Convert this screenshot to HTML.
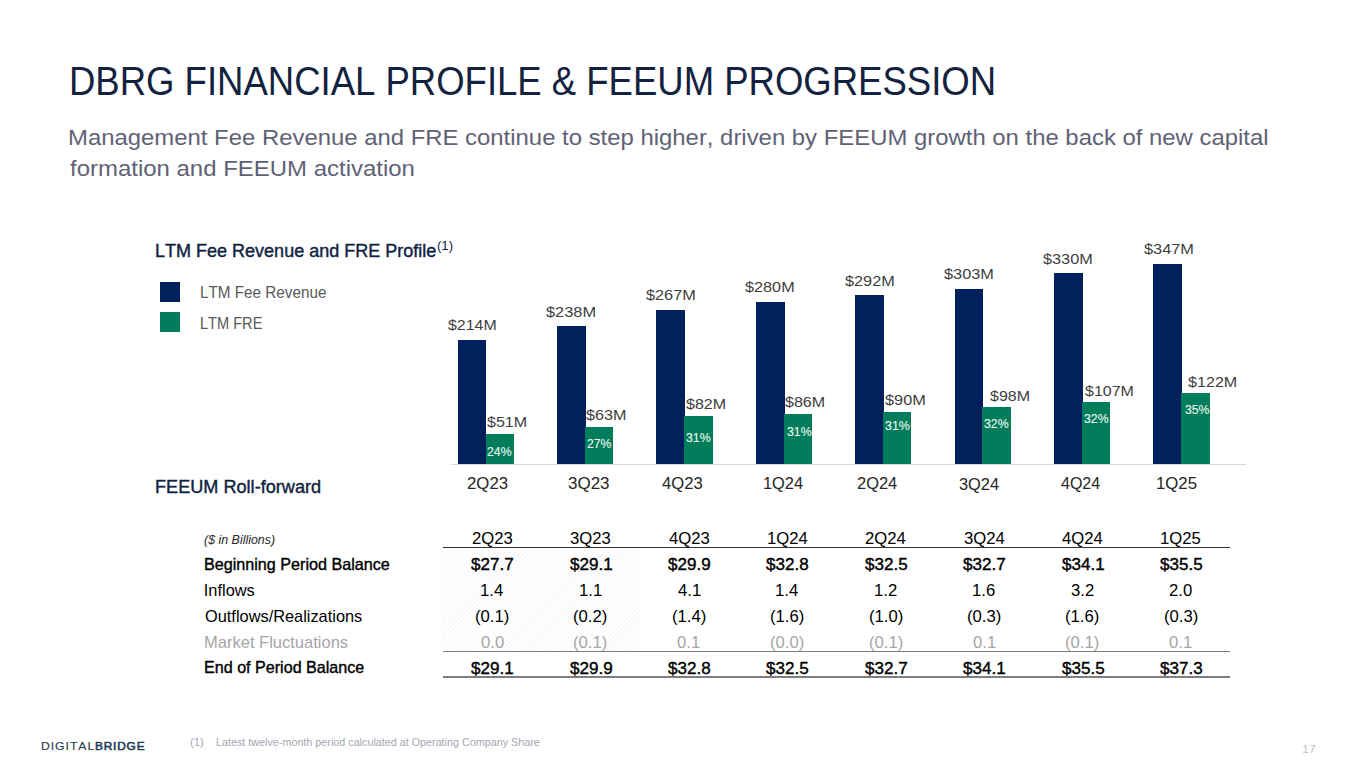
<!DOCTYPE html>
<html><head><meta charset="utf-8"><style>
html,body{margin:0;padding:0;background:#ffffff;}
body{width:1365px;height:768px;position:relative;overflow:hidden;font-family:"Liberation Sans", sans-serif;}
.t{position:absolute;white-space:nowrap;transform-origin:0 0;font-kerning:none;}
.r{position:absolute;}
</style></head><body>
<div class="t" style="left:68.70px;top:60.69px;font-size:40.40px;line-height:40.40px;color:#13233f;transform:scaleX(0.9039);">DBRG FINANCIAL PROFILE &amp; FEEUM PROGRESSION</div>
<div class="t" style="left:68.04px;top:126.97px;font-size:22.00px;line-height:22.00px;color:#5f6276;transform:scaleX(1.0860);">Management Fee Revenue and FRE continue to step higher, driven by FEEUM growth on the back of new capital</div>
<div class="t" style="left:69.66px;top:157.77px;font-size:22.00px;line-height:22.00px;color:#5f6276;transform:scaleX(1.0891);">formation and FEEUM activation</div>
<div class="t" style="left:155.32px;top:241.99px;font-size:18.20px;line-height:18.20px;color:#0f2340;transform:scaleX(0.9903);-webkit-text-stroke:0.40px #0f2340;">LTM Fee Revenue and FRE Profile</div>
<div class="t" style="left:437.09px;top:240.38px;font-size:12.90px;line-height:12.90px;color:#0f2340;transform:scaleX(1.0165);">(1)</div>
<div class="r" style="left:160.00px;top:282.00px;width:20.00px;height:20.00px;background:#02205c;"></div>
<div class="r" style="left:160.00px;top:312.30px;width:20.00px;height:20.00px;background:#027d5b;"></div>
<div class="t" style="left:199.65px;top:283.80px;font-size:16.30px;line-height:16.30px;color:#595959;transform:scaleX(0.9373);">LTM Fee Revenue</div>
<div class="t" style="left:199.70px;top:315.00px;font-size:16.30px;line-height:16.30px;color:#595959;transform:scaleX(0.8952);">LTM FRE</div>
<div class="r" style="left:457.60px;top:340.14px;width:28.90px;height:123.66px;background:#02205c;"></div>
<div class="r" style="left:485.50px;top:433.95px;width:28.40px;height:29.85px;background:#027d5b;"></div>
<div class="r" style="left:556.98px;top:326.33px;width:28.88px;height:137.47px;background:#02205c;"></div>
<div class="r" style="left:584.86px;top:427.04px;width:28.44px;height:36.76px;background:#027d5b;"></div>
<div class="r" style="left:656.36px;top:309.64px;width:28.86px;height:154.16px;background:#02205c;"></div>
<div class="r" style="left:684.22px;top:416.11px;width:28.48px;height:47.69px;background:#027d5b;"></div>
<div class="r" style="left:755.74px;top:302.16px;width:28.84px;height:161.64px;background:#02205c;"></div>
<div class="r" style="left:783.58px;top:413.81px;width:28.52px;height:49.99px;background:#027d5b;"></div>
<div class="r" style="left:855.12px;top:295.25px;width:28.82px;height:168.55px;background:#02205c;"></div>
<div class="r" style="left:882.94px;top:411.50px;width:28.56px;height:52.30px;background:#027d5b;"></div>
<div class="r" style="left:954.50px;top:288.92px;width:28.80px;height:174.88px;background:#02205c;"></div>
<div class="r" style="left:982.30px;top:406.90px;width:28.60px;height:56.90px;background:#027d5b;"></div>
<div class="r" style="left:1053.88px;top:273.38px;width:28.78px;height:190.41px;background:#02205c;"></div>
<div class="r" style="left:1081.66px;top:401.72px;width:28.64px;height:62.08px;background:#027d5b;"></div>
<div class="r" style="left:1153.26px;top:263.60px;width:28.76px;height:200.20px;background:#02205c;"></div>
<div class="r" style="left:1181.02px;top:393.09px;width:28.68px;height:70.71px;background:#027d5b;"></div>
<div class="r" style="left:450.50px;top:463.50px;width:795.00px;height:1.00px;background:#d9d9d9;"></div>
<div class="t" style="left:447.53px;top:318.44px;font-size:14.60px;line-height:14.60px;color:#404040;transform:scaleX(1.0904);">$214M</div>
<div class="t" style="left:546.22px;top:304.64px;font-size:14.60px;line-height:14.60px;color:#404040;transform:scaleX(1.1227);">$238M</div>
<div class="t" style="left:645.83px;top:287.74px;font-size:14.60px;line-height:14.60px;color:#404040;transform:scaleX(1.1158);">$267M</div>
<div class="t" style="left:745.33px;top:280.04px;font-size:14.60px;line-height:14.60px;color:#404040;transform:scaleX(1.1135);">$280M</div>
<div class="t" style="left:844.73px;top:273.54px;font-size:14.60px;line-height:14.60px;color:#404040;transform:scaleX(1.1158);">$292M</div>
<div class="t" style="left:944.02px;top:267.14px;font-size:14.60px;line-height:14.60px;color:#404040;transform:scaleX(1.1181);">$303M</div>
<div class="t" style="left:1043.23px;top:251.54px;font-size:14.60px;line-height:14.60px;color:#404040;transform:scaleX(1.1158);">$330M</div>
<div class="t" style="left:1143.82px;top:242.04px;font-size:14.60px;line-height:14.60px;color:#404040;transform:scaleX(1.1204);">$347M</div>
<div class="t" style="left:486.53px;top:414.64px;font-size:14.60px;line-height:14.60px;color:#404040;transform:scaleX(1.1005);">$51M</div>
<div class="t" style="left:585.83px;top:407.54px;font-size:14.60px;line-height:14.60px;color:#404040;transform:scaleX(1.1062);">$63M</div>
<div class="t" style="left:685.73px;top:396.64px;font-size:14.60px;line-height:14.60px;color:#404040;transform:scaleX(1.0976);">$82M</div>
<div class="t" style="left:784.73px;top:394.74px;font-size:14.60px;line-height:14.60px;color:#404040;transform:scaleX(1.1005);">$86M</div>
<div class="t" style="left:885.42px;top:392.54px;font-size:14.60px;line-height:14.60px;color:#404040;transform:scaleX(1.1175);">$90M</div>
<div class="t" style="left:990.23px;top:389.04px;font-size:14.60px;line-height:14.60px;color:#404040;transform:scaleX(1.0976);">$98M</div>
<div class="t" style="left:1085.03px;top:383.94px;font-size:14.60px;line-height:14.60px;color:#404040;transform:scaleX(1.0973);">$107M</div>
<div class="t" style="left:1187.53px;top:375.24px;font-size:14.60px;line-height:14.60px;color:#404040;transform:scaleX(1.1043);">$122M</div>
<div class="t" style="left:486.88px;top:444.92px;font-size:13.20px;line-height:13.20px;color:#eef8f3;transform:scaleX(0.9294);-webkit-text-stroke:0.10px #eef8f3;">24%</div>
<div class="t" style="left:586.79px;top:436.82px;font-size:13.20px;line-height:13.20px;color:#eef8f3;transform:scaleX(0.9255);-webkit-text-stroke:0.10px #eef8f3;">27%</div>
<div class="t" style="left:685.93px;top:431.12px;font-size:13.20px;line-height:13.20px;color:#eef8f3;transform:scaleX(0.9353);-webkit-text-stroke:0.10px #eef8f3;">31%</div>
<div class="t" style="left:786.93px;top:425.12px;font-size:13.20px;line-height:13.20px;color:#eef8f3;transform:scaleX(0.9353);-webkit-text-stroke:0.10px #eef8f3;">31%</div>
<div class="t" style="left:885.13px;top:419.12px;font-size:13.20px;line-height:13.20px;color:#eef8f3;transform:scaleX(0.9432);-webkit-text-stroke:0.10px #eef8f3;">31%</div>
<div class="t" style="left:983.83px;top:417.12px;font-size:13.20px;line-height:13.20px;color:#eef8f3;transform:scaleX(0.9314);-webkit-text-stroke:0.10px #eef8f3;">32%</div>
<div class="t" style="left:1083.83px;top:412.12px;font-size:13.20px;line-height:13.20px;color:#eef8f3;transform:scaleX(0.9314);-webkit-text-stroke:0.10px #eef8f3;">32%</div>
<div class="t" style="left:1185.03px;top:402.62px;font-size:13.20px;line-height:13.20px;color:#eef8f3;transform:scaleX(0.9275);-webkit-text-stroke:0.10px #eef8f3;">35%</div>
<div class="t" style="left:466.56px;top:474.90px;font-size:16.30px;line-height:16.30px;color:#262626;transform:scaleX(1.0303);">2Q23</div>
<div class="t" style="left:568.35px;top:474.70px;font-size:16.30px;line-height:16.30px;color:#262626;transform:scaleX(1.0431);">3Q23</div>
<div class="t" style="left:662.22px;top:474.70px;font-size:16.30px;line-height:16.30px;color:#262626;transform:scaleX(1.0236);">4Q23</div>
<div class="t" style="left:763.15px;top:474.70px;font-size:16.30px;line-height:16.30px;color:#262626;transform:scaleX(1.0064);">1Q24</div>
<div class="t" style="left:856.97px;top:474.60px;font-size:16.30px;line-height:16.30px;color:#262626;transform:scaleX(1.0110);">2Q24</div>
<div class="t" style="left:959.38px;top:475.70px;font-size:16.30px;line-height:16.30px;color:#262626;transform:scaleX(1.0058);">3Q24</div>
<div class="t" style="left:1061.23px;top:475.20px;font-size:16.30px;line-height:16.30px;color:#262626;transform:scaleX(0.9840);">4Q24</div>
<div class="t" style="left:1156.32px;top:475.20px;font-size:16.30px;line-height:16.30px;color:#262626;transform:scaleX(1.0277);">1Q25</div>
<div class="t" style="left:154.71px;top:477.92px;font-size:18.40px;line-height:18.40px;color:#0f2340;transform:scaleX(0.9850);-webkit-text-stroke:0.40px #0f2340;">FEEUM Roll-forward</div>
<div class="t" style="left:203.82px;top:534.09px;font-size:12.30px;line-height:12.30px;color:#262626;font-style:italic;transform:scaleX(1.0102);">($ in Billions)</div>
<div class="t" style="left:203.97px;top:555.91px;font-size:16.40px;line-height:16.40px;color:#000000;transform:scaleX(0.9852);-webkit-text-stroke:0.38px #000000;">Beginning Period Balance</div>
<div class="t" style="left:203.79px;top:582.31px;font-size:16.40px;line-height:16.40px;color:#000000;">Inflows</div>
<div class="t" style="left:204.52px;top:608.11px;font-size:16.40px;line-height:16.40px;color:#000000;transform:scaleX(0.9979);">Outflows/Realizations</div>
<div class="t" style="left:203.94px;top:633.71px;font-size:16.40px;line-height:16.40px;color:#a6a6a6;transform:scaleX(1.0074);">Market Fluctuations</div>
<div class="t" style="left:203.98px;top:659.31px;font-size:16.40px;line-height:16.40px;color:#000000;transform:scaleX(0.9825);-webkit-text-stroke:0.38px #000000;">End of Period Balance</div>
<div class="r" style="left:441px;top:548px;width:199px;height:103px;background:repeating-linear-gradient(135deg,#ffffff 0px,#ffffff 2.5px,#f7f7f7 2.5px,#f7f7f7 3.5px);"></div>
<div class="r" style="left:442.80px;top:547.00px;width:787.50px;height:1.20px;background:#333333;"></div>
<div class="r" style="left:442.80px;top:650.60px;width:787.50px;height:1.40px;background:#7f7f7f;"></div>
<div class="r" style="left:442.80px;top:676.20px;width:787.50px;height:1.40px;background:#7f7f7f;"></div>
<div class="t" style="left:471.74px;top:529.98px;font-size:16.20px;line-height:16.20px;color:#000000;transform:scaleX(1.0300);">2Q23</div>
<div class="t" style="left:471.20px;top:555.81px;font-size:16.40px;line-height:16.40px;color:#000000;transform:scaleX(1.0400);-webkit-text-stroke:0.38px #000000;">$27.7</div>
<div class="t" style="left:480.21px;top:581.58px;font-size:16.20px;line-height:16.20px;color:#000000;transform:scaleX(1.0300);">1.4</div>
<div class="t" style="left:475.05px;top:607.88px;font-size:16.20px;line-height:16.20px;color:#000000;transform:scaleX(1.0300);">(0.1)</div>
<div class="t" style="left:480.60px;top:633.58px;font-size:16.20px;line-height:16.20px;color:#a6a6a6;transform:scaleX(1.0300);">0.0</div>
<div class="t" style="left:471.18px;top:659.71px;font-size:16.40px;line-height:16.40px;color:#000000;transform:scaleX(1.0400);-webkit-text-stroke:0.38px #000000;">$29.1</div>
<div class="t" style="left:570.24px;top:529.98px;font-size:16.20px;line-height:16.20px;color:#000000;transform:scaleX(1.0300);">3Q23</div>
<div class="t" style="left:569.58px;top:555.81px;font-size:16.40px;line-height:16.40px;color:#000000;transform:scaleX(1.0400);-webkit-text-stroke:0.38px #000000;">$29.1</div>
<div class="t" style="left:578.77px;top:581.58px;font-size:16.20px;line-height:16.20px;color:#000000;transform:scaleX(1.0300);">1.1</div>
<div class="t" style="left:573.45px;top:607.88px;font-size:16.20px;line-height:16.20px;color:#000000;transform:scaleX(1.0300);">(0.2)</div>
<div class="t" style="left:573.45px;top:633.58px;font-size:16.20px;line-height:16.20px;color:#a6a6a6;transform:scaleX(1.0300);">(0.1)</div>
<div class="t" style="left:569.57px;top:659.71px;font-size:16.40px;line-height:16.40px;color:#000000;transform:scaleX(1.0400);-webkit-text-stroke:0.38px #000000;">$29.9</div>
<div class="t" style="left:668.77px;top:529.98px;font-size:16.20px;line-height:16.20px;color:#000000;transform:scaleX(1.0300);">4Q23</div>
<div class="t" style="left:667.97px;top:555.81px;font-size:16.40px;line-height:16.40px;color:#000000;transform:scaleX(1.0400);-webkit-text-stroke:0.38px #000000;">$29.9</div>
<div class="t" style="left:677.62px;top:581.58px;font-size:16.20px;line-height:16.20px;color:#000000;transform:scaleX(1.0300);">4.1</div>
<div class="t" style="left:671.85px;top:607.88px;font-size:16.20px;line-height:16.20px;color:#000000;transform:scaleX(1.0300);">(1.4)</div>
<div class="t" style="left:677.48px;top:633.58px;font-size:16.20px;line-height:16.20px;color:#a6a6a6;transform:scaleX(1.0300);">0.1</div>
<div class="t" style="left:667.94px;top:659.71px;font-size:16.40px;line-height:16.40px;color:#000000;transform:scaleX(1.0400);-webkit-text-stroke:0.38px #000000;">$32.8</div>
<div class="t" style="left:766.60px;top:529.98px;font-size:16.20px;line-height:16.20px;color:#000000;transform:scaleX(1.0300);">1Q24</div>
<div class="t" style="left:766.34px;top:555.81px;font-size:16.40px;line-height:16.40px;color:#000000;transform:scaleX(1.0400);-webkit-text-stroke:0.38px #000000;">$32.8</div>
<div class="t" style="left:775.41px;top:581.58px;font-size:16.20px;line-height:16.20px;color:#000000;transform:scaleX(1.0300);">1.4</div>
<div class="t" style="left:770.25px;top:607.88px;font-size:16.20px;line-height:16.20px;color:#000000;transform:scaleX(1.0300);">(1.6)</div>
<div class="t" style="left:770.25px;top:633.58px;font-size:16.20px;line-height:16.20px;color:#a6a6a6;transform:scaleX(1.0300);">(0.0)</div>
<div class="t" style="left:766.33px;top:659.71px;font-size:16.40px;line-height:16.40px;color:#000000;transform:scaleX(1.0400);-webkit-text-stroke:0.38px #000000;">$32.5</div>
<div class="t" style="left:865.22px;top:529.98px;font-size:16.20px;line-height:16.20px;color:#000000;transform:scaleX(1.0300);">2Q24</div>
<div class="t" style="left:864.73px;top:555.81px;font-size:16.40px;line-height:16.40px;color:#000000;transform:scaleX(1.0400);-webkit-text-stroke:0.38px #000000;">$32.5</div>
<div class="t" style="left:873.99px;top:581.58px;font-size:16.20px;line-height:16.20px;color:#000000;transform:scaleX(1.0300);">1.2</div>
<div class="t" style="left:868.65px;top:607.88px;font-size:16.20px;line-height:16.20px;color:#000000;transform:scaleX(1.0300);">(1.0)</div>
<div class="t" style="left:868.65px;top:633.58px;font-size:16.20px;line-height:16.20px;color:#a6a6a6;transform:scaleX(1.0300);">(0.1)</div>
<div class="t" style="left:864.80px;top:659.71px;font-size:16.40px;line-height:16.40px;color:#000000;transform:scaleX(1.0400);-webkit-text-stroke:0.38px #000000;">$32.7</div>
<div class="t" style="left:963.72px;top:529.98px;font-size:16.20px;line-height:16.20px;color:#000000;transform:scaleX(1.0300);">3Q24</div>
<div class="t" style="left:963.20px;top:555.81px;font-size:16.40px;line-height:16.40px;color:#000000;transform:scaleX(1.0400);-webkit-text-stroke:0.38px #000000;">$32.7</div>
<div class="t" style="left:972.33px;top:581.58px;font-size:16.20px;line-height:16.20px;color:#000000;transform:scaleX(1.0300);">1.6</div>
<div class="t" style="left:967.05px;top:607.88px;font-size:16.20px;line-height:16.20px;color:#000000;transform:scaleX(1.0300);">(0.3)</div>
<div class="t" style="left:972.68px;top:633.58px;font-size:16.20px;line-height:16.20px;color:#a6a6a6;transform:scaleX(1.0300);">0.1</div>
<div class="t" style="left:963.18px;top:659.71px;font-size:16.40px;line-height:16.40px;color:#000000;transform:scaleX(1.0400);-webkit-text-stroke:0.38px #000000;">$34.1</div>
<div class="t" style="left:1062.24px;top:529.98px;font-size:16.20px;line-height:16.20px;color:#000000;transform:scaleX(1.0300);">4Q24</div>
<div class="t" style="left:1061.58px;top:555.81px;font-size:16.40px;line-height:16.40px;color:#000000;transform:scaleX(1.0400);-webkit-text-stroke:0.38px #000000;">$34.1</div>
<div class="t" style="left:1071.10px;top:581.58px;font-size:16.20px;line-height:16.20px;color:#000000;transform:scaleX(1.0300);">3.2</div>
<div class="t" style="left:1065.45px;top:607.88px;font-size:16.20px;line-height:16.20px;color:#000000;transform:scaleX(1.0300);">(1.6)</div>
<div class="t" style="left:1065.45px;top:633.58px;font-size:16.20px;line-height:16.20px;color:#a6a6a6;transform:scaleX(1.0300);">(0.1)</div>
<div class="t" style="left:1061.53px;top:659.71px;font-size:16.40px;line-height:16.40px;color:#000000;transform:scaleX(1.0400);-webkit-text-stroke:0.38px #000000;">$35.5</div>
<div class="t" style="left:1160.31px;top:529.98px;font-size:16.20px;line-height:16.20px;color:#000000;transform:scaleX(1.0300);">1Q25</div>
<div class="t" style="left:1159.93px;top:555.81px;font-size:16.40px;line-height:16.40px;color:#000000;transform:scaleX(1.0400);-webkit-text-stroke:0.38px #000000;">$35.5</div>
<div class="t" style="left:1169.31px;top:581.58px;font-size:16.20px;line-height:16.20px;color:#000000;transform:scaleX(1.0300);">2.0</div>
<div class="t" style="left:1163.85px;top:607.88px;font-size:16.20px;line-height:16.20px;color:#000000;transform:scaleX(1.0300);">(0.3)</div>
<div class="t" style="left:1169.48px;top:633.58px;font-size:16.20px;line-height:16.20px;color:#a6a6a6;transform:scaleX(1.0300);">0.1</div>
<div class="t" style="left:1159.94px;top:659.71px;font-size:16.40px;line-height:16.40px;color:#000000;transform:scaleX(1.0400);-webkit-text-stroke:0.38px #000000;">$37.3</div>
<div class="t" style="left:190.21px;top:738.36px;font-size:10.20px;line-height:10.20px;color:#a3a6b2;transform:scaleX(1.0981);">(1)</div>
<div class="t" style="left:215.82px;top:738.36px;font-size:10.20px;line-height:10.20px;color:#a3a6b2;transform:scaleX(1.0568);">Latest twelve-month period calculated at Operating Company Share</div>
<div class="t" style="left:1301.76px;top:743.76px;font-size:10.80px;line-height:10.80px;color:#c4c4c4;transform:scaleX(1.1459);">17</div>
<div class="t" style="left:41.00px;top:739.88px;font-size:11.60px;line-height:11.60px;color:#2f3f4a;transform:scaleX(1.0532);letter-spacing:0.90px;-webkit-text-stroke:0.15px #2f3f4a;">DIGITAL</div>
<div class="t" style="left:95.23px;top:739.88px;font-size:11.60px;line-height:11.60px;color:#1c3a55;transform:scaleX(1.0229);letter-spacing:0.80px;-webkit-text-stroke:0.55px #1c3a55;">BRIDGE</div>
</body></html>
